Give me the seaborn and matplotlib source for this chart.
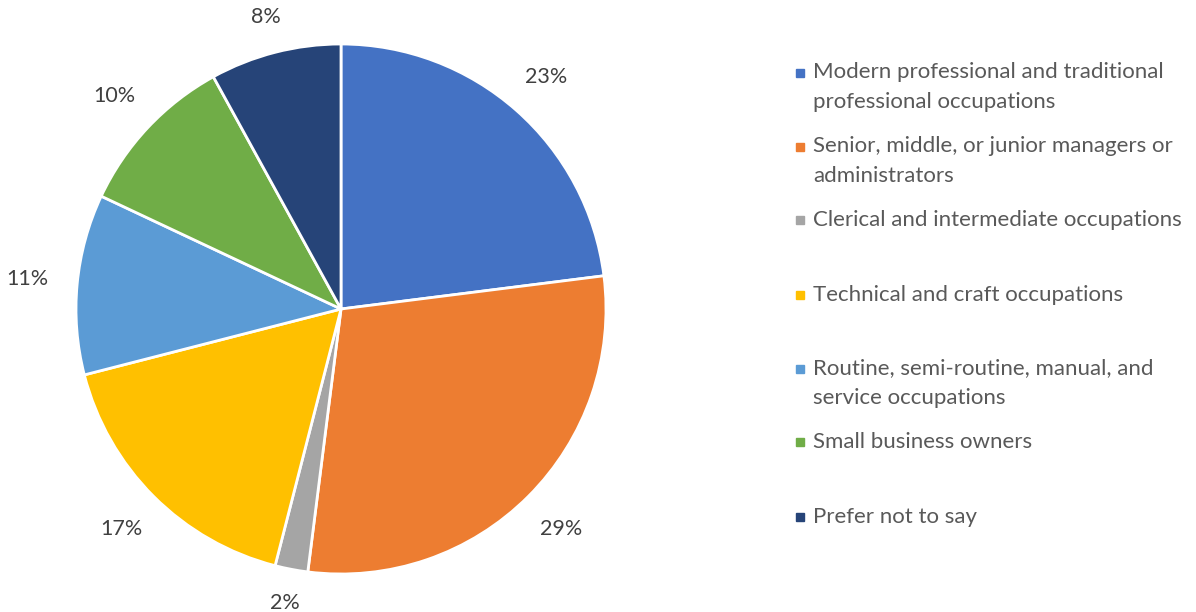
import matplotlib
matplotlib.use("Agg")
import matplotlib.pyplot as plt
from matplotlib.patches import Rectangle
import numpy as np
import seaborn as sns

categories = [
    "Modern professional and traditional\nprofessional occupations",
    "Senior, middle, or junior managers or\nadministrators",
    "Clerical and intermediate occupations",
    "Technical and craft occupations",
    "Routine, semi-routine, manual, and\nservice occupations",
    "Small business owners",
    "Prefer not to say",
]
shares = [23, 29, 2, 17, 11, 10, 8]
colors = ["#4472C4", "#ED7D31", "#A5A5A5", "#FFC000", "#5B9BD5", "#70AD47", "#264478"]

sns.set_theme(style="white")
plt.rcParams["font.family"] = ["Lato", "DejaVu Sans"]

W, H = 1196, 612
fig = plt.figure(figsize=(W / 100, H / 100), dpi=100)

# pie: centre (341, 309), radius 265 px
r = 265
ax = fig.add_axes([(341 - r) / W, (H - 309 - r) / H, 2 * r / W, 2 * r / H])
wedges, _, autotexts = ax.pie(
    shares, colors=colors, startangle=90, counterclock=False,
    autopct=lambda p: f"{p:.0f}%", pctdistance=1.17,
    wedgeprops=dict(edgecolor="white", linewidth=2),
    textprops=dict(color="#404040", fontsize=15.5))
ax.set_xlim(-1, 1)
ax.set_ylim(-1, 1)
ax.set_axis_off()

# Excel puts the label box a fixed gap outside the rim
hw, hh = 24 / r, 5 / r
for w, t in zip(wedges, autotexts):
    a = np.deg2rad((w.theta1 + w.theta2) / 2)
    d = 1.095 + abs(np.cos(a)) * hw + abs(np.sin(a)) * hh
    t.set_position((d * np.cos(a), d * np.sin(a)))
    t.set_ha("center")
    t.set_va("center")

# legend, laid out like the Excel one
legend_y = [87, 161, 220, 295, 383, 442, 517]
for lab, col, y in zip(categories, colors, legend_y):
    first = y - 14.5 * lab.count("\n")
    fig.patches.append(Rectangle((796 / W, (H - first - 4) / H), 8 / W, 8 / H,
                                 transform=fig.transFigure, color=col))
    fig.text(813 / W, (H - y) / H, lab, color="#595959", fontsize=16,
             ha="left", va="center", linespacing=1.57)

fig.savefig("out.png", dpi=100)
